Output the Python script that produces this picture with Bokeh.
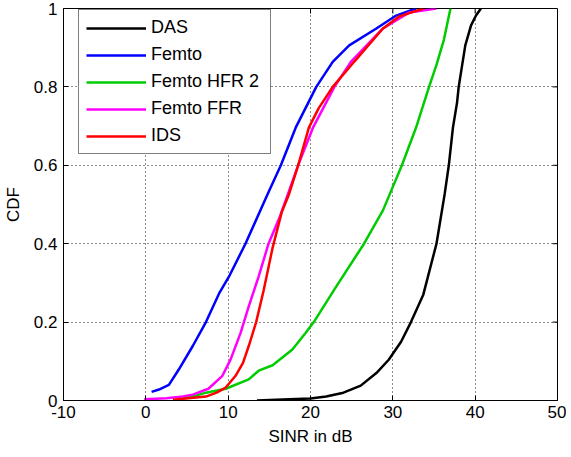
from bokeh.plotting import figure
from bokeh.models import Range1d, FixedTicker, Legend, LegendItem
from bokeh.embed import file_html
from bokeh.resources import INLINE

# ---- data ----
x_ticks = [-10, 0, 10, 20, 30, 40, 50]
x_tick_labels = ["-10", "0", "10", "20", "30", "40", "50"]
y_ticks = [0, 0.2, 0.4, 0.6, 0.8, 1]
y_tick_labels = ["0", "0.2", "0.4", "0.6", "0.8", "1"]

das_x = [13.5, 17.4, 20.0, 21.9, 24.0, 26.1, 28.0, 29.5, 31.0, 32.2, 33.7, 35.3, 36.3, 36.8, 37.3, 37.8, 38.0, 38.8, 39.5, 40.1, 40.7]
das_y = [0.0, 0.003, 0.005, 0.01, 0.02, 0.038, 0.07, 0.104, 0.15, 0.2, 0.27, 0.4, 0.527, 0.6, 0.696, 0.76, 0.8, 0.906, 0.957, 0.982, 1.0]

femto_x = [0.7, 1.6, 2.8, 4.0, 5.7, 7.3, 8.9, 10.2, 12.1, 14.8, 16.4, 18.2, 20.7, 22.7, 24.7, 28.0, 30.4, 32.8]
femto_y = [0.022, 0.028, 0.04, 0.079, 0.139, 0.2, 0.273, 0.32, 0.4, 0.527, 0.6, 0.696, 0.8, 0.864, 0.906, 0.949, 0.982, 1.0]

hfr_x = [4.5, 5.7, 7.3, 9.7, 12.5, 13.7, 15.4, 17.8, 19.4, 20.4, 23.1, 26.5, 28.8, 31.1, 32.8, 34.4, 35.3, 36.2, 37.0]
hfr_y = [0.005, 0.01, 0.02, 0.03, 0.054, 0.076, 0.09, 0.13, 0.172, 0.2, 0.29, 0.4, 0.485, 0.6, 0.695, 0.8, 0.856, 0.92, 1.0]

ffr_x = [-0.2, 2.5, 4.5, 5.7, 7.6, 9.3, 10.3, 11.5, 12.5, 13.7, 14.9, 16.3, 18.5, 20.3, 22.9, 24.9, 28.8, 32.0, 35.3]
ffr_y = [0.003, 0.006, 0.01, 0.015, 0.03, 0.063, 0.105, 0.172, 0.24, 0.316, 0.4, 0.47, 0.6, 0.696, 0.8, 0.864, 0.949, 0.99, 1.0]

ids_x = [3.3, 7.3, 8.6, 9.7, 10.9, 11.8, 12.5, 13.4, 14.3, 15.4, 16.5, 17.4, 18.5, 19.8, 21.0, 22.7, 25.3, 28.8, 30.8, 33.7]
ids_y = [0.002, 0.01, 0.02, 0.033, 0.063, 0.096, 0.139, 0.2, 0.28, 0.39, 0.48, 0.527, 0.6, 0.696, 0.746, 0.8, 0.864, 0.949, 0.98, 1.0]

series = [
    ("DAS", das_x, das_y, "#000000"),
    ("Femto", femto_x, femto_y, "#0000ff"),
    ("Femto HFR 2", hfr_x, hfr_y, "#00cc00"),
    ("Femto FFR", ffr_x, ffr_y, "#ff00ff"),
    ("IDS", ids_x, ids_y, "#ff0000"),
]

FONT = "Liberation Sans"
FS = "17px"

FW, FH = 494, 392          # plot frame size in px
BL, BR, BT, BB = 60, 9, 8, 49
x0, x1 = x_ticks[0], x_ticks[-1]
y0, y1 = y_ticks[0], y_ticks[-1]

p = figure(frame_width=FW, frame_height=FH, output_backend="svg", toolbar_location=None,
           x_range=Range1d(x0, x1), y_range=Range1d(y0, y1),
           min_border_left=BL, min_border_right=BR, min_border_top=BT, min_border_bottom=BB,
           background_fill_color="white", border_fill_color="white")

p.outline_line_color = "black"
p.outline_line_width = 1

for ax, ticks in ((p.xaxis[0], x_ticks), (p.yaxis[0], y_ticks)):
    ax.ticker = FixedTicker(ticks=ticks)
    ax.axis_line_color = "black"
    ax.major_tick_line_color = "black"
    ax.major_tick_in = 5
    ax.major_tick_out = 0
    ax.minor_tick_line_color = None
    ax.major_label_text_font = FONT
    ax.major_label_text_font_size = FS
    ax.major_label_text_color = "black"
    ax.axis_label_text_font = FONT
    ax.axis_label_text_font_size = FS
    ax.axis_label_text_font_style = "normal"
    ax.axis_label_text_color = "black"

p.xaxis[0].major_label_overrides = {t: s for t, s in zip(x_ticks, x_tick_labels)}
p.yaxis[0].major_label_overrides = {t: s for t, s in zip(y_ticks, y_tick_labels)}
p.xaxis[0].axis_label = "SINR in dB"
p.yaxis[0].axis_label = "CDF"
p.xaxis[0].major_label_standoff = 5
p.xaxis[0].axis_label_standoff = 6
p.yaxis[0].major_label_standoff = 6
p.yaxis[0].axis_label_standoff = 8

# inward tick marks on the top and right edges of the box (Matlab style)
tick_px = 5
dy = (y1 - y0) * tick_px / FH
dx = (x1 - x0) * tick_px / FW
inner_x = x_ticks[1:-1]
inner_y = y_ticks[1:-1]
p.segment(x0=inner_x, y0=[y1] * len(inner_x), x1=inner_x, y1=[y1 - dy] * len(inner_x),
          line_color="black", line_width=1)
p.segment(x0=[x1] * len(inner_y), y0=inner_y, x1=[x1 - dx] * len(inner_y), y1=inner_y,
          line_color="black", line_width=1)

p.xgrid.ticker = FixedTicker(ticks=x_ticks)
p.ygrid.ticker = FixedTicker(ticks=y_ticks)
for g in (p.xgrid[0], p.ygrid[0]):
    g.grid_line_color = "black"
    g.grid_line_dash = "1 3"
    g.grid_line_width = 1
    g.grid_line_alpha = 0.9

items = []
for name, xs, ys, col in series:
    r = p.line(xs, ys, line_color=col, line_width=2.5)
    items.append(LegendItem(label=name, renderers=[r]))

leg_h = 2 * 7 + 5 * 20 + 4 * 6
legend = Legend(items=items, location=(15, FH - 8 - leg_h), margin=0, padding=7,
                spacing=6, glyph_width=60, glyph_height=20, label_height=20, label_width=112,
                label_standoff=5, label_text_font=FONT, label_text_font_size="18px",
                label_text_color="black", border_line_color="black",
                border_line_width=1, background_fill_color="white",
                background_fill_alpha=1.0)
p.add_layout(legend)

open("out.html", "w").write(file_html(p, INLINE))
